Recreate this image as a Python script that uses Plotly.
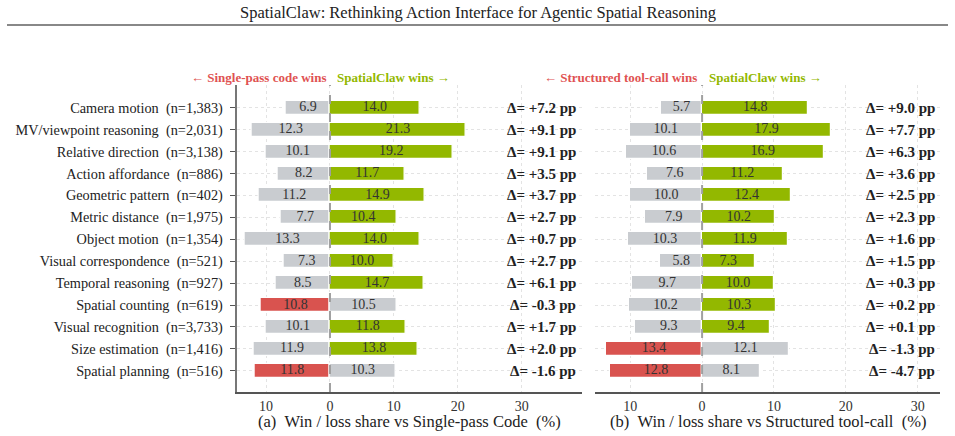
import plotly.graph_objects as go

categories = ["Camera motion", "MV/viewpoint reasoning", "Relative direction", "Action affordance",
              "Geometric pattern", "Metric distance", "Object motion", "Visual correspondence",
              "Temporal reasoning", "Spatial counting", "Visual recognition", "Size estimation",
              "Spatial planning"]
counts = ["1,383", "2,031", "3,138", "886", "402", "1,975", "1,354", "521", "927", "619", "3,733", "1,416", "516"]

a_loss = [6.9, 12.3, 10.1, 8.2, 11.2, 7.7, 13.3, 7.3, 8.5, 10.8, 10.1, 11.9, 11.8]
a_win = [14.0, 21.3, 19.2, 11.7, 14.9, 10.4, 14.0, 10.0, 14.7, 10.5, 11.8, 13.8, 10.3]
a_delta = [7.2, 9.1, 9.1, 3.5, 3.7, 2.7, 0.7, 2.7, 6.1, -0.3, 1.7, 2.0, -1.6]

b_loss = [5.7, 10.1, 10.6, 7.6, 10.0, 7.9, 10.3, 5.8, 9.7, 10.2, 9.3, 13.4, 12.8]
b_win = [14.8, 17.9, 16.9, 11.2, 12.4, 10.2, 11.9, 7.3, 10.0, 10.3, 9.4, 12.1, 8.1]
b_delta = [9.0, 7.7, 6.3, 3.6, 2.5, 2.3, 1.6, 1.5, 0.3, 0.2, 0.1, -1.3, -4.7]

x_tickvals = [-10, 0, 10, 20, 30]
x_ticktext = ["10", "0", "10", "20", "30"]

GREY = "#c9ccd0"
GREEN = "#93b800"
RED = "#d9534f"
FONT = "Liberation Serif"
W, H = 955, 436

def px_x(p):
    return p / W

def px_y(p):
    return 1 - p / H

ticktext_y = [f"{c}\u00a0\u00a0(n={n})" for c, n in zip(categories, counts)]
yidx = list(range(len(categories)))

fig = go.Figure()

panels = [
    ("x", "y", a_loss, a_win, a_delta),
    ("x2", "y2", b_loss, b_win, b_delta),
]
for xa, ya, loss, win, delta in panels:
    lcol = [RED if d < 0 else GREY for d in delta]
    rcol = [GREEN if d > 0 else GREY for d in delta]
    for vals, cols, sign in [(loss, lcol, -1), (win, rcol, 1)]:
        fig.add_trace(go.Bar(
            y=yidx, x=[sign * v for v in vals], orientation="h", xaxis=xa, yaxis=ya,
            marker=dict(color=cols, line=dict(color="white", width=1.2)),
            width=0.64, hoverinfo="skip", showlegend=False))
        fig.add_trace(go.Scatter(
            y=yidx, x=[sign * v / 2 for v in vals], mode="text", xaxis=xa, yaxis=ya,
            text=[f"{v:.1f}" for v in vals], textposition="middle center",
            textfont=dict(family=FONT, size=14, color="#333333"),
            hoverinfo="skip", showlegend=False, cliponaxis=False))

yrange = [12.97, -1.04]
common_x = dict(tickvals=x_tickvals, ticktext=x_ticktext, showgrid=True, griddash="dot",
                gridcolor="#e3e3e3", gridwidth=1, zeroline=False, showline=True,
                linecolor="#555555", linewidth=1.5, ticks="", automargin=False,
                tickfont=dict(family=FONT, size=14, color="#333333"),
                fixedrange=True)

fig.update_layout(
    width=W, height=H, margin=dict(l=0, r=0, t=0, b=0),
    paper_bgcolor="white", plot_bgcolor="white", barmode="overlay", bargap=0,
    xaxis=dict(common_x, domain=[px_x(236.7), px_x(581.7)], range=[-14.6, 39.4], anchor="y"),
    xaxis2=dict(common_x, domain=[px_x(595), px_x(940)], range=[-14.9, 33.1], anchor="y2"),
    yaxis=dict(domain=[px_y(392), px_y(85)], range=yrange, tickvals=yidx, ticktext=ticktext_y,
               showgrid=True, griddash="dot", gridcolor="#e3e3e3", zeroline=False,
               showline=True, linecolor="#777777", linewidth=2, ticks="outside", ticklen=5,
               tickcolor="#555555", automargin=False, anchor="x", ticklabelstandoff=4,
               tickfont=dict(family=FONT, size=14.3, color="#222222")),
    yaxis2=dict(domain=[px_y(392), px_y(85)], range=yrange, tickvals=yidx, showticklabels=False,
                showgrid=True, griddash="dot", gridcolor="#e3e3e3", zeroline=False,
                showline=False, ticks="", automargin=False, anchor="x2"),
    font=dict(family=FONT),
)

# zero dashed lines
for xa, ya in [("x", "y"), ("x2", "y2")]:
    fig.add_shape(type="line", xref=xa, yref=f"{ya} domain",
                  x0=0, x1=0, y0=0, y1=1, line=dict(color="#a0a0a0", width=2, dash="dash"),
                  layer="above")

# delta annotations
for xa, ya, delta in [("x", "y", a_delta), ("x2", "y2", b_delta)]:
    for i, d in enumerate(delta):
        fig.add_annotation(xref=f"{xa} domain", yref=ya, x=0.99, y=i, xanchor="right",
                           yanchor="middle", showarrow=False, text=f"<b>Δ= {d:+.1f} pp</b>",
                           font=dict(family=FONT, size=15, color="#222222"))

# header annotations
headers = [("x", "y", "← Single-pass code wins", -2),
           ("x2", "y2", "← Structured tool-call wins", -3)]
for xa, ya, txt, sh in headers:
    fig.add_annotation(xref=xa, yref=f"{ya} domain", x=0, y=1, xanchor="right", yanchor="middle",
                       yshift=8, xshift=sh, showarrow=False, text=f"<b>{txt}</b>",
                       font=dict(family=FONT, size=13, color="#e05252"))
    fig.add_annotation(xref=xa, yref=f"{ya} domain", x=0, y=1, xanchor="left", yanchor="middle",
                       yshift=8, xshift=5, showarrow=False, text="<b>SpatialClaw wins →</b>",
                       font=dict(family=FONT, size=13, color=GREEN))

# x-axis titles
fig.add_annotation(xref="x domain", yref="paper", x=0.5, y=px_y(421.5), xanchor="center",
                   yanchor="middle", showarrow=False,
                   text="(a)\u00a0\u00a0Win / loss share vs Single-pass Code\u00a0\u00a0(%)",
                   font=dict(family=FONT, size=16.5, color="#222222"))
fig.add_annotation(xref="x2 domain", yref="paper", x=0.5, y=px_y(421.5), xanchor="center",
                   yanchor="middle", showarrow=False,
                   text="(b)\u00a0\u00a0Win / loss share vs Structured tool-call\u00a0\u00a0(%)",
                   font=dict(family=FONT, size=16.5, color="#222222"))

# page title and rule
fig.add_annotation(xref="paper", yref="paper", x=px_x(478), y=px_y(12), xanchor="center",
                   yanchor="middle", showarrow=False,
                   text="SpatialClaw: Rethinking Action Interface for Agentic Spatial Reasoning",
                   font=dict(family=FONT, size=16.5, color="#222222"))
fig.add_shape(type="line", xref="paper", yref="paper", x0=px_x(7), x1=px_x(948),
              y0=px_y(25), y1=px_y(25), line=dict(color="#888888", width=2))

fig.write_html("out.html")
